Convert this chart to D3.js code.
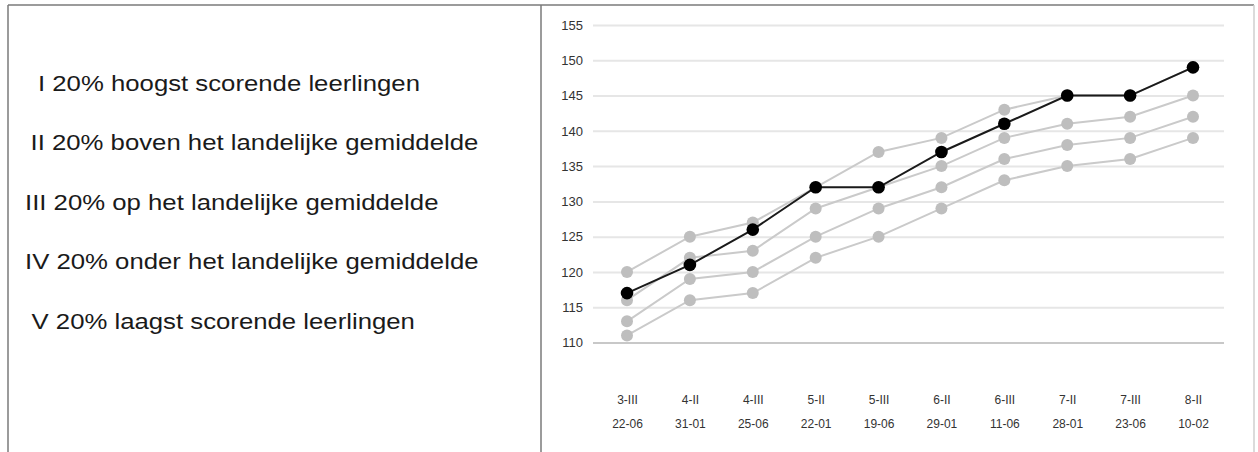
<!DOCTYPE html>
<html>
<head>
<meta charset="utf-8">
<script src="https://cdn.jsdelivr.net/npm/d3@7"></script>
<style>
  html, body { margin: 0; padding: 0; background: #fff; }
  svg { display: block; }
</style>
</head>
<body>
<svg id="chart" width="1258" height="452"></svg>
<script>
// ---- data ----
const levels = ["3-III", "4-II", "4-III", "5-II", "5-III", "6-II", "6-III", "7-II", "7-III", "8-II"];
const dates  = ["22-06", "31-01", "25-06", "22-01", "19-06", "29-01", "11-06", "28-01", "23-06", "10-02"];
const yTicks = [110, 115, 120, 125, 130, 135, 140, 145, 150, 155];

// boundary lines between the 20% groups (gray)
const border1 = [120, 125, 127, 132, 137, 139, 143, 145, 145, 149];
const border2 = [116, 122, 123, 129, 132, 135, 139, 141, 142, 145];
const border3 = [113, 119, 120, 125, 129, 132, 136, 138, 139, 142];
const border4 = [111, 116, 117, 122, 125, 129, 133, 135, 136, 139];
// student (black)
const student = [117, 121, 126, 132, 132, 137, 141, 145, 145, 149];

const legendLines = [
  "I 20% hoogst scorende leerlingen",
  "II 20% boven het landelijke gemiddelde",
  "III 20% op het landelijke gemiddelde",
  "IV 20% onder het landelijke gemiddelde",
  "V 20% laagst scorende leerlingen"
];

// ---- drawing ----
const svg = d3.select("#chart");
const font = "'Liberation Sans', Arial, Helvetica, sans-serif";

// frame
const frame = svg.append("g").attr("fill", "none");
frame.append("line").attr("x1", 8).attr("x2", 1254).attr("y1", 5).attr("y2", 5)
  .attr("stroke", "#7a7a7a").attr("stroke-width", 1.5);
frame.append("line").attr("x1", 8).attr("x2", 8).attr("y1", 5).attr("y2", 452)
  .attr("stroke", "#7a7a7a").attr("stroke-width", 1.5);
frame.append("line").attr("x1", 541).attr("x2", 541).attr("y1", 5).attr("y2", 452)
  .attr("stroke", "#7a7a7a").attr("stroke-width", 1.5);
frame.append("line").attr("x1", 1254).attr("x2", 1254).attr("y1", 5).attr("y2", 452)
  .attr("stroke", "#cfcfcf").attr("stroke-width", 1.5);

// legend text
const legendX = [38, 30.5, 25, 25, 31.5];
const legendY0 = 90.5, legendStep = 59.5;
svg.append("g").selectAll("text").data(legendLines).join("text")
  .attr("transform", (d, i) => `translate(${legendX[i]},${legendY0 + i * legendStep}) scale(1.17,1)`)
  .attr("font-family", font)
  .attr("font-size", 22)
  .attr("fill", "#1a1a1a")
  .text(d => d);

// scales
const x = d3.scalePoint().domain(levels).range([627, 1193]);
const y = d3.scaleLinear().domain([110, 155]).range([342.5, 25]);
const gridLeft = 593, gridRight = 1224;

// y axis with gridlines
const yAxis = svg.append("g")
  .attr("transform", `translate(${gridLeft},0)`)
  .call(d3.axisLeft(y).tickValues(yTicks).tickSize(-(gridRight - gridLeft)).tickPadding(10));
yAxis.select(".domain").remove();
yAxis.selectAll(".tick line")
  .attr("stroke", d => d === 110 ? "#c8c8c8" : "#e6e6e6")
  .attr("stroke-width", 2);
yAxis.selectAll(".tick text")
  .attr("font-family", font).attr("font-size", 13).attr("fill", "#333");

// x axis: two rows of labels
const xRow1 = svg.append("g")
  .attr("transform", "translate(0,395)")
  .call(d3.axisBottom(x).tickSize(0).tickPadding(0));
xRow1.select(".domain").remove();
xRow1.selectAll(".tick text")
  .attr("font-family", font).attr("font-size", 12).attr("fill", "#333");

const dateByLevel = new Map(levels.map((l, i) => [l, dates[i]]));
const xRow2 = svg.append("g")
  .attr("transform", "translate(0,419)")
  .call(d3.axisBottom(x).tickSize(0).tickPadding(0).tickFormat(l => dateByLevel.get(l)));
xRow2.select(".domain").remove();
xRow2.selectAll(".tick text")
  .attr("font-family", font).attr("font-size", 12).attr("fill", "#333");

// series
const line = d3.line().x((d, i) => x(levels[i])).y(d => y(d));
const grays = [border1, border2, border3, border4];

const gGray = svg.append("g");
grays.forEach(s => {
  gGray.append("path").datum(s)
    .attr("d", line).attr("fill", "none")
    .attr("stroke", "#cacaca").attr("stroke-width", 2);
});
grays.forEach(s => {
  gGray.append("g").selectAll("circle").data(s).join("circle")
    .attr("cx", (d, i) => x(levels[i])).attr("cy", d => y(d))
    .attr("r", 6).attr("fill", "#bebebe");
});

const gStudent = svg.append("g");
gStudent.append("path").datum(student)
  .attr("d", line).attr("fill", "none")
  .attr("stroke", "#1a1a1a").attr("stroke-width", 2);
gStudent.selectAll("circle").data(student).join("circle")
  .attr("cx", (d, i) => x(levels[i])).attr("cy", d => y(d))
  .attr("r", 6.3).attr("fill", "#000");
</script>
</body>
</html>
